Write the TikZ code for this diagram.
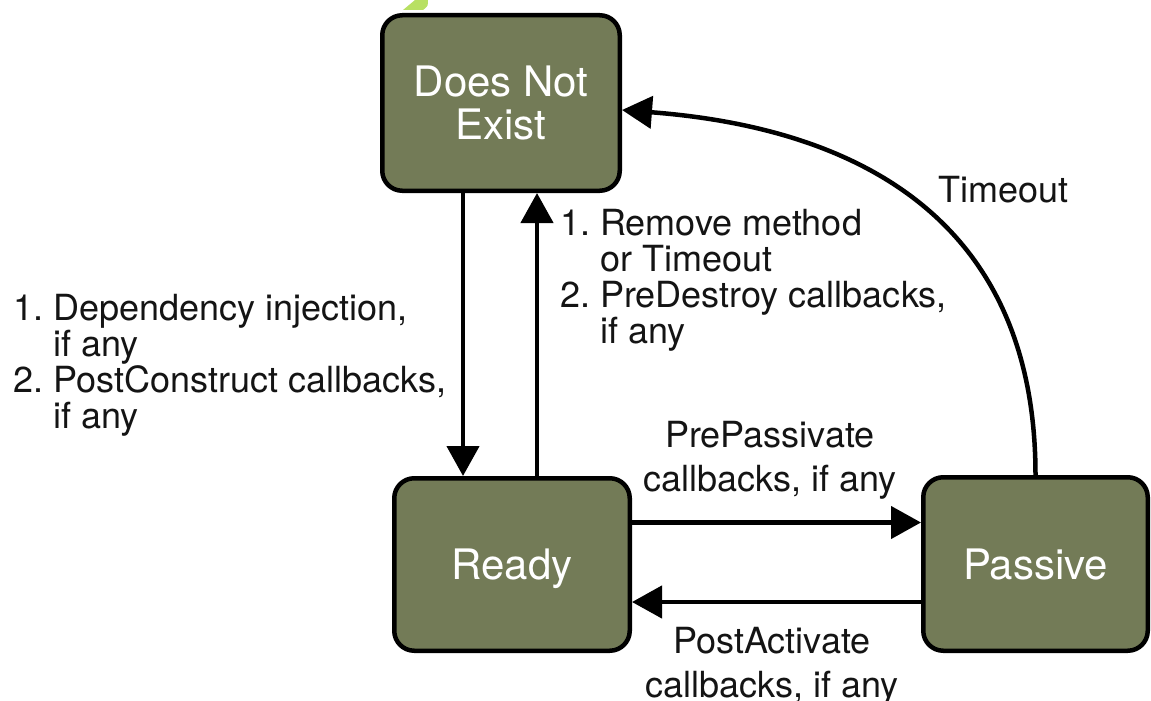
\documentclass[tikz,border=0pt]{standalone}
\usepackage{fontspec}
\setmainfont{TeX Gyre Heros}
\usetikzlibrary{arrows.meta,calc}

\definecolor{stateolive}{RGB}{115,123,87}
\definecolor{leafgreen}{RGB}{184,224,98}
\definecolor{inkdark}{RGB}{20,20,20}

\tikzset{
  statebox/.style={draw=black, line width=4.5pt, fill=stateolive,
    rounded corners=20pt, inner sep=0pt, text=white, align=center,
    font=\fontsize{42}{43}\selectfont, text depth=0pt},
  arr/.style={line width=4.5pt, -{Triangle[length=30pt,width=32pt]}},
  listlabel/.style={inner sep=0pt, align=left, text=inkdark,
    font=\fontsize{36}{36}\selectfont},
  midlabel/.style={inner sep=0pt, align=center, text=inkdark,
    font=\fontsize{36}{44}\selectfont},
}

\begin{document}
\begin{tikzpicture}[x=1pt, y=-1pt]
  \useasboundingbox (0,0) rectangle (1151,701);
  \fill[white] (0,0) rectangle (1151,701);

  % small leaf mark above the top state
  \fill[leafgreen] (403,10) -- (415,0) -- (428,0) .. controls (428,6) .. (423,10) -- cycle;

  % states
  \node[statebox, minimum width=237.5pt, minimum height=175.5pt] (dne) at (501,103)
    {Does Not\\Exist};
  \node[statebox, minimum width=235.5pt, minimum height=172.5pt] (ready) at (512,564.5)
    {Ready};
  \node[statebox, minimum width=224.5pt, minimum height=173.5pt] (passive) at (1035.5,564)
    {Passive};

  % transitions
  \draw[arr] ([xshift=-38pt]dne.south) -- ([xshift=-38pt]dne.south |- ready.north);
  \draw[arr] ([xshift=36pt]dne.south |- ready.north) -- ([xshift=36pt]dne.south);
  \draw[arr] ([yshift=42pt]ready.east) -- ([yshift=42pt]ready.east -| passive.west);
  \draw[arr] ([yshift=-38pt]passive.west) -- ([yshift=-38pt]passive.west -| ready.east);
  \draw[arr] (passive.north) .. controls +(0,-237) and +(260,20) .. ([yshift=-7pt]dne.east);

  % labels
  \node[listlabel, anchor=north west] (lcreate) at (13,294)
    {1.\ Dependency injection,\\\phantom{1.}\ if any\\2.\ PostConstruct callbacks,\\\phantom{2.}\ if any};
  \node[listlabel, anchor=north west] (lremove) at (560,209)
    {1.\ Remove method\\\phantom{1.}\ or Timeout\\2.\ PreDestroy callbacks,\\\phantom{2.}\ if any};
  \node[listlabel, anchor=base west] (ltimeout) at (938,202) {Timeout};
  \node[midlabel, anchor=north] (lpassivate) at (770,421)
    {PrePassivate\\callbacks, if any};
  \node[midlabel, anchor=north] (lactivate) at (772,627)
    {PostActivate\\callbacks, if any};
\end{tikzpicture}
\end{document}
